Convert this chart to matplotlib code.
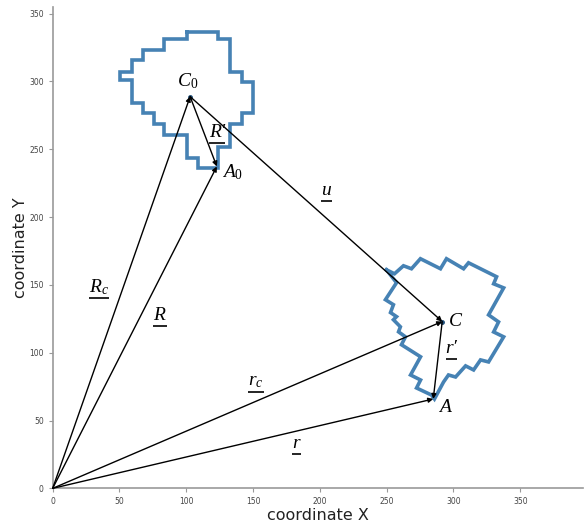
import matplotlib.pyplot as plt

# outline of the object at time 0 (top) and at time t (bottom)
blob0_x = [100.7, 124.1, 124.1, 132.9, 132.9, 141.7, 141.7, 149.8, 149.8, 141.7, 141.7,
           132.9, 132.9, 124.1, 124.1, 108.9, 108.9, 100.7, 100.7, 83.2, 83.2, 75.7, 75.7,
           67.5, 67.5, 59.4, 59.4, 50.7, 50.7, 59.4, 59.4, 67.5, 67.5, 83.2, 83.2, 100.7, 100.7]
blob0_y = [336.7, 336.7, 331.2, 331.2, 307.2, 307.2, 299.5, 299.5, 277.0, 277.0, 268.9,
           268.9, 251.9, 251.9, 236.4, 236.4, 243.8, 243.8, 260.8, 260.8, 268.9, 268.9, 277.0,
           277.0, 284.4, 284.4, 301.0, 301.0, 307.2, 307.2, 316.1, 316.1, 323.5, 323.5, 331.2, 331.2, 336.7]

blob1_x = [249.9, 255.9, 262.6, 268.6, 275.3, 290.3, 294.8, 307.6, 311.3, 332.3, 330.1, 337.6,
           326.3, 333.8, 330.1, 337.6, 326.3, 320.3, 315.1, 309.1, 301.6, 296.3, 292.6, 285.8,
           283.6, 272.4, 275.4, 267.9, 275.4, 261.1, 264.1, 258.9, 260.3, 255.1, 257.4, 252.9,
           255.1, 249.1, 257.4, 249.9]
blob1_y = [161.1, 158.2, 164.1, 161.9, 169.3, 161.9, 169.3, 161.9, 166.3, 156.0, 150.8, 147.8,
           127.9, 122.7, 115.3, 111.7, 93.2, 94.7, 87.3, 90.3, 82.1, 83.6, 78.4, 65.9,
           68.8, 74.0, 79.9, 83.6, 97.0, 105.9, 111.7, 115.4, 119.1, 124.3, 126.6, 129.6,
           135.4, 139.1, 151.6, 161.1]

# key points
origin = (0, 0)
C0 = (102.9, 288.8)
A0 = (122.9, 237.3)
C = (291.6, 123.0)
A = (284.9, 65.9)

# vectors: (start, end)
vectors = [(origin, C0), (origin, A0), (origin, C), (origin, A),
           (C0, A0), (C0, C), (C, A)]

# labels: text, x, y, underlined?
label_texts = [r'$C_0$', r'$A_0$', r'$C$', r'$A$',
               r'$u$', "R\u2032", r'$R_c$', r'$R$', r'$r_c$', r'$r$', "r\u2032"]
label_x = [100.7, 134.4, 301.6, 294.1, 204.9, 123.1, 34.7, 80.4, 152.4, 182.4, 298.6]
label_y = [299.9, 233.4, 122.9, 59.3, 219.4, 262.2, 148.7, 127.3, 78.6, 32.8, 102.8]
label_under = [False, False, False, False, True, True, True, True, True, True, True]

plt.rcParams['mathtext.fontset'] = 'custom'
plt.rcParams['mathtext.it'] = 'Liberation Serif:italic'
plt.rcParams['mathtext.rm'] = 'Liberation Serif'

fig = plt.figure(figsize=(5.85, 5.24), dpi=100)
ax = fig.add_axes([0.090, 0.068, 0.9066, 0.919])

ax.plot(blob0_x, blob0_y, color='#4682B4', lw=2.6, solid_joinstyle='miter')
ax.plot(blob1_x, blob1_y, color='#4682B4', lw=2.6, solid_joinstyle='miter')

for start, end in vectors:
    ax.annotate('', xy=end, xytext=start,
                arrowprops=dict(arrowstyle='-|>', color='black', lw=1.0,
                                mutation_scale=7, shrinkA=0, shrinkB=0))

ax.plot([C0[0], C[0]], [C0[1], C[1]], 'o', color='#1f4e79', ms=2.5)

ax.set_xlim(0, 397)
ax.set_ylim(0, 355)
ax.set_xticks(range(0, 351, 50))
ax.set_yticks(range(0, 351, 50))

texts = []
for t, x, y in zip(label_texts, label_x, label_y):
    texts.append(ax.text(x, y, t, fontsize=14, ha='center', va='center',
                         family='Liberation Serif', style='italic'))

# mathtext has no \underline, so draw the bars by hand
fig.canvas.draw()
inv = ax.transData.inverted()
for txt, under in zip(texts, label_under):
    if not under:
        continue
    bb = txt.get_window_extent()
    (x0, y0), (x1, _) = inv.transform([(bb.x0, bb.y0 - 1.5), (bb.x1, bb.y0 - 1.5)])
    ax.plot([x0, x1], [y0, y0], color='black', lw=1.2, solid_capstyle='butt')

for side in ['top', 'right']:
    ax.spines[side].set_visible(False)
for side in ['left', 'bottom']:
    ax.spines[side].set_color('#999999')
    ax.spines[side].set_linewidth(1.2)
ax.tick_params(colors='#999999', labelcolor='#444444', labelsize=5.5, length=3, width=0.8)

ax.set_xlabel('coordinate X', fontsize=11.5, color='#222222', labelpad=1)
ax.set_ylabel('coordinate Y', fontsize=11.5, color='#222222', labelpad=1)

plt.savefig('out.png', dpi=100)
